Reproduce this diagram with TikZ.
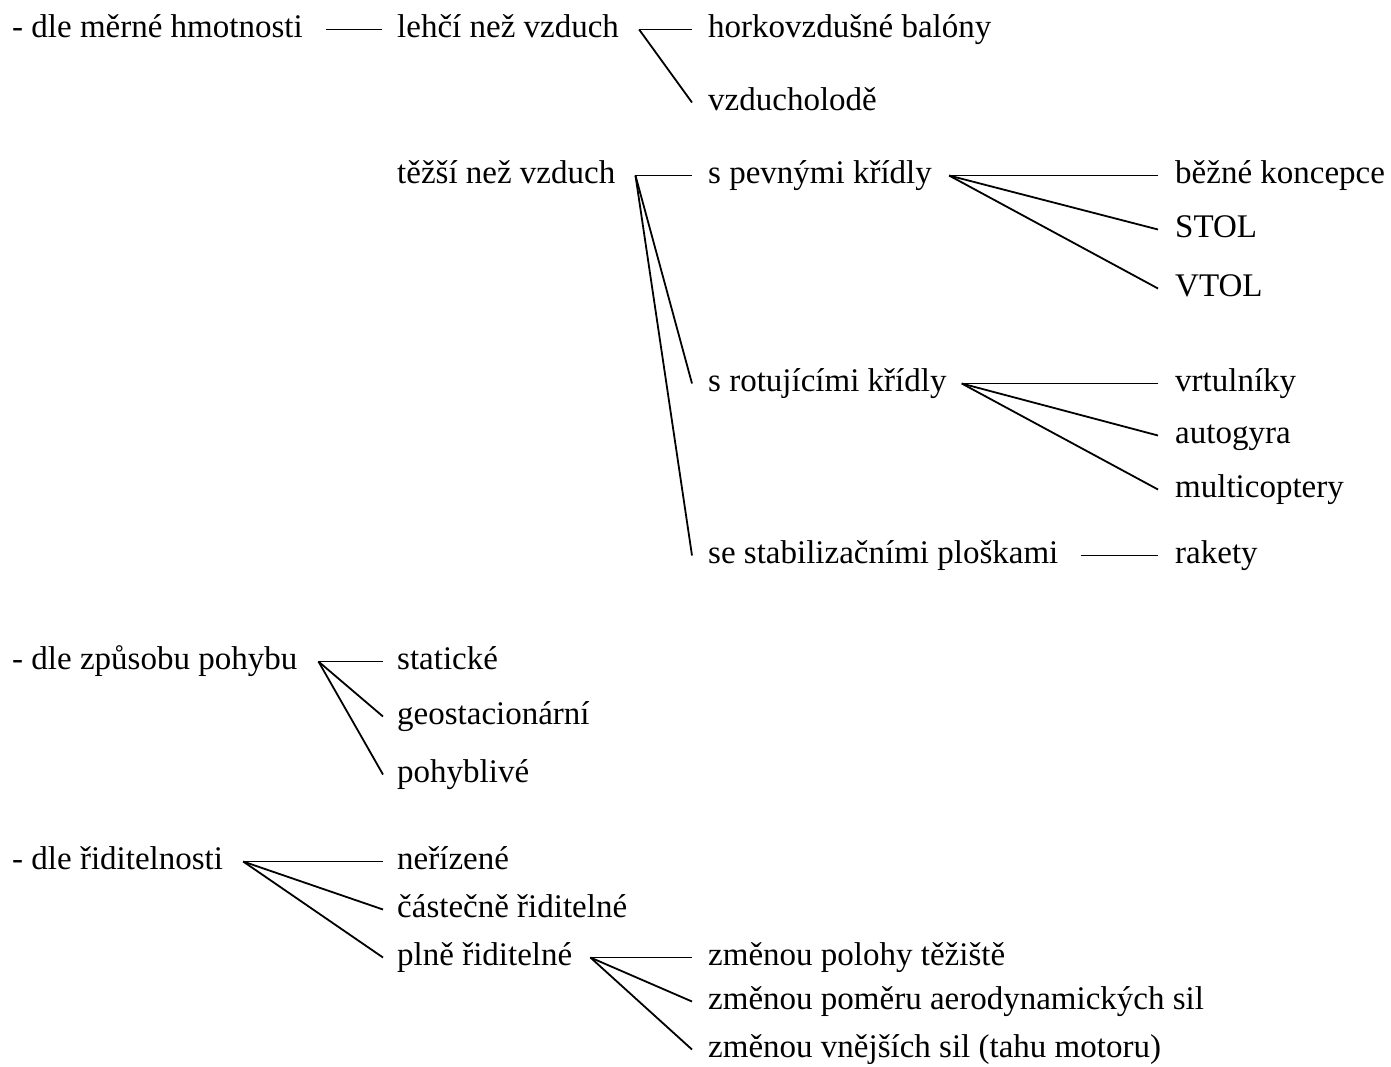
\documentclass[tikz,border=0pt]{standalone}
\usepackage{fontspec}
\setmainfont{Liberation Serif}
\begin{document}
\begin{tikzpicture}[x=1pt,y=-1pt,
  lbl/.style={anchor=base west,inner sep=0pt,text height=23pt,text depth=8pt,font=\fontsize{33}{40}\selectfont},
  conn/.style={line width=1.8pt,line join=miter}]
\useasboundingbox[fill=white] (0,0) rectangle (1391,1066);
% group 1
\node[lbl] (g1) at (12,37) {- dle měrné hmotnosti};
\node[lbl] (lehci) at (397,37) {lehčí než vzduch};
\node[lbl] (balony) at (708,37) {horkovzdušné balóny};
\node[lbl] (vzducho) at (708,110) {vzducholodě};
\node[lbl] (tezsi) at (397,183) {těžší než vzduch};
\node[lbl] (pevne) at (708,183) {s pevnými křídly};
\node[lbl] (bezne) at (1175,183) {běžné koncepce};
\node[lbl] (stol) at (1175,237) {STOL};
\node[lbl] (vtol) at (1175,296) {VTOL};
\node[lbl] (rot) at (708,391) {s rotujícími křídly};
\node[lbl] (vrt) at (1175,391) {vrtulníky};
\node[lbl] (auto) at (1175,443) {autogyra};
\node[lbl] (multi) at (1175,497) {multicoptery};
\node[lbl] (stab) at (708,563) {se stabilizačními ploškami};
\node[lbl] (rak) at (1175,563) {rakety};
% group 2
\node[lbl] (g2) at (12,669) {- dle způsobu pohybu};
\node[lbl] (stat) at (397,669) {statické};
\node[lbl] (geo) at (397,724) {geostacionární};
\node[lbl] (pohyb) at (397,782) {pohyblivé};
% group 3
\node[lbl] (g3) at (12,869) {- dle řiditelnosti};
\node[lbl] (neriz) at (397,869) {neřízené};
\node[lbl] (cast) at (397,917) {částečně řiditelné};
\node[lbl] (plne) at (397,965) {plně řiditelné};
\node[lbl] (tez) at (708,965) {změnou polohy těžiště};
\node[lbl] (pomer) at (708,1009) {změnou poměru aerodynamických sil};
\node[lbl] (vnej) at (708,1057) {změnou vnějších sil (tahu motoru)};
% connectors
\draw[conn] ([xshift=23pt]g1.east) -- ([xshift=-15pt]lehci.west);
\coordinate (f1) at ([xshift=20pt]lehci.east);
\draw[conn] (f1) -- ([xshift=-16pt]balony.west);
\draw[conn] (f1) -- ([xshift=-16pt]vzducho.west);
\coordinate (f2) at ([xshift=20pt]tezsi.east);
\draw[conn] (f2) -- ([xshift=-16pt]pevne.west);
\draw[conn] (f2) -- ([xshift=-16pt]rot.west);
\draw[conn] (f2) -- ([xshift=-16pt]stab.west);
\coordinate (f3) at ([xshift=17pt]pevne.east);
\draw[conn] (f3) -- ([xshift=-17pt]bezne.west);
\draw[conn] (f3) -- ([xshift=-17pt]stol.west);
\draw[conn] (f3) -- ([xshift=-17pt]vtol.west);
\coordinate (f4) at ([xshift=15pt]rot.east);
\draw[conn] (f4) -- ([xshift=-17pt]vrt.west);
\draw[conn] (f4) -- ([xshift=-17pt]auto.west);
\draw[conn] (f4) -- ([xshift=-17pt]multi.west);
\draw[conn] ([xshift=22pt]stab.east) -- ([xshift=-17pt]rak.west);
\coordinate (f5) at ([xshift=21pt]g2.east);
\draw[conn] (f5) -- ([xshift=-14pt]stat.west);
\draw[conn] (f5) -- ([xshift=-14pt]geo.west);
\draw[conn] (f5) -- ([xshift=-14pt]pohyb.west);
\coordinate (f6) at ([xshift=20pt]g3.east);
\draw[conn] (f6) -- ([xshift=-14pt]neriz.west);
\draw[conn] (f6) -- ([xshift=-14pt]cast.west);
\draw[conn] (f6) -- ([xshift=-14pt]plne.west);
\coordinate (f7) at ([xshift=18pt]plne.east);
\draw[conn] (f7) -- ([xshift=-16pt]tez.west);
\draw[conn] (f7) -- ([xshift=-16pt]pomer.west);
\draw[conn] (f7) -- ([xshift=-16pt]vnej.west);
\end{tikzpicture}
\end{document}
